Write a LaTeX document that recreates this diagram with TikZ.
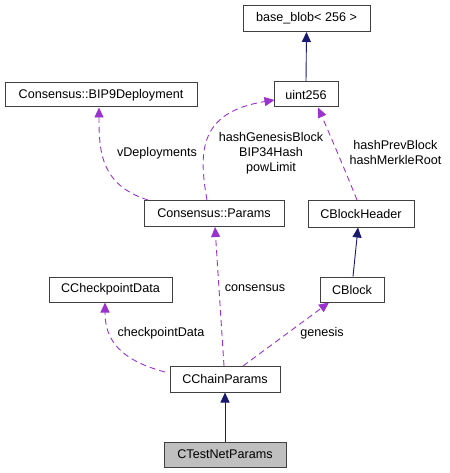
\documentclass[tikz,border=0pt]{standalone}
\usepackage{fontspec}
\setmainfont{Liberation Sans}
\usetikzlibrary{arrows.meta}
\definecolor{navy}{HTML}{191970}
\definecolor{purp}{HTML}{9A32CD}
\definecolor{edgegray}{HTML}{404040}
\definecolor{fillgray}{HTML}{BFBFBF}
\begin{document}
\begin{tikzpicture}[x=1pt,y=-1pt,
  box/.style={draw=edgegray, line width=1pt, fill=white, inner sep=0pt, font=\fontsize{12.6}{14}\selectfont},
  inh/.style={draw=navy, line width=0.9pt, -{Triangle[length=10pt,width=9pt,fill=navy]}},
  use/.style={draw=purp, line width=0.9pt, dash pattern=on 6pt off 4pt, -{Triangle[length=10pt,width=9pt,fill=purp]}},
  lab/.style={font=\fontsize{12.6}{15}\selectfont, align=center, inner sep=0pt}]
\useasboundingbox (0,0) rectangle (449,473);
\node[box, minimum width=127pt, minimum height=26pt] (bb) at (306.5,18.5) {base\_blob< 256 >};
\node[box, minimum width=64pt, minimum height=25pt] (u) at (306,94.5) {uint256};
\node[box, minimum width=192pt, minimum height=24pt] (bip) at (101,95) {Consensus::BIP9Deployment};
\node[box, minimum width=140pt, minimum height=26pt] (par) at (214,213.5) {Consensus::Params};
\node[box, minimum width=106pt, minimum height=27pt] (bh) at (361,213.5) {CBlockHeader};
\node[box, minimum width=123pt, minimum height=25pt] (cp) at (110.5,289.5) {CCheckpointData};
\node[box, minimum width=64pt, minimum height=25pt] (blk) at (352,289.5) {CBlock};
\node[box, minimum width=110pt, minimum height=26pt] (ch) at (225,379) {CChainParams};
\node[box, minimum width=122pt, minimum height=25pt, fill=fillgray] (tn) at (225,454.5) {CTestNetParams};

\coordinate (parA) at (207,200);
\coordinate (parB) at (148,200);
\coordinate (uL) at (274.5,100);
\coordinate (uB) at (318,107.5);
\coordinate (bipB) at (99,107.5);
\coordinate (bhT) at (357,200);
\coordinate (chT) at (224,366);
\coordinate (chL) at (165,372);
\coordinate (chR) at (243,366);
\coordinate (parBot) at (215,227);
\coordinate (cpB) at (105,302.5);
\coordinate (blkB) at (329,302.5);

\draw[inh] (u.north) -- (bb.south);
\draw[inh] (blk.north -| 353,0) -- (bh.south -| 358,0);
\draw[inh] (tn.north) -- (ch.south);

\draw[use] (parA) .. controls (198,150) and (200,112) .. (uL);
\draw[use] (parB) .. controls (100,185) and (99,150) .. (bipB);
\draw[use] (bhT) .. controls (345,170) and (330,135) .. (uB);
\draw[use] (chT) -- (parBot);
\draw[use] (chL) .. controls (120,360) and (105,340) .. (cpB);
\draw[use] (chR) -- (blkB);

\node[lab] (l1) at (157,153) {vDeployments};
\node[lab] (l2) at (271,153) {hashGenesisBlock\\BIP34Hash\\powLimit};
\node[lab] (l3) at (395.5,152.5) {hashPrevBlock\\hashMerkleRoot};
\node[lab] (l4) at (255,288) {consensus};
\node[lab] (l5) at (161,333) {checkpointData};
\node[lab] (l6) at (322,333) {genesis};
\end{tikzpicture}
\end{document}
